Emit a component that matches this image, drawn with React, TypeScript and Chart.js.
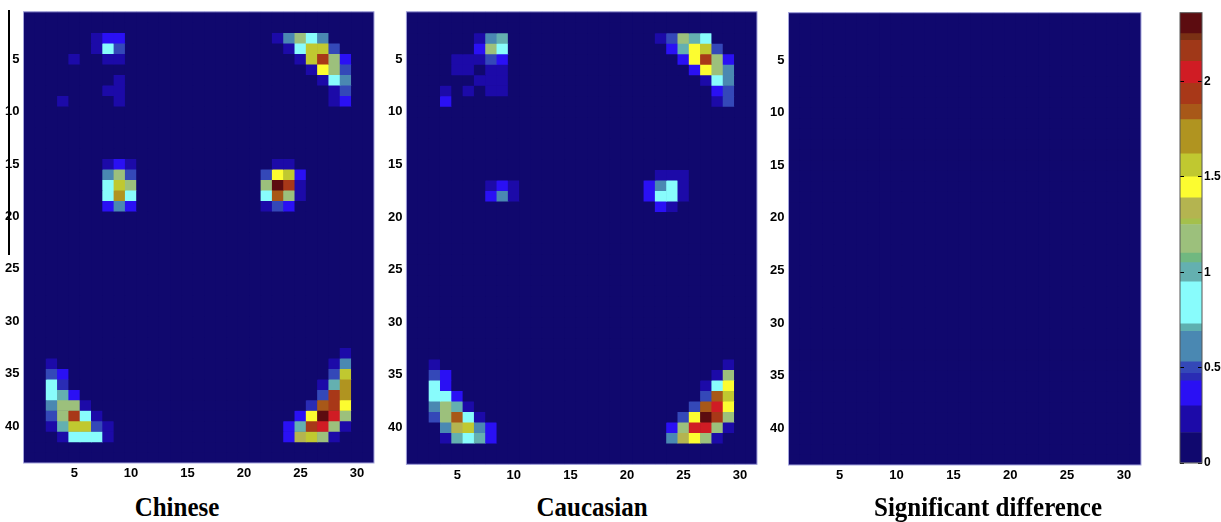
import React, { useEffect, useRef } from 'react';
import { Chart, registerables } from 'chart.js';

Chart.register(...registerables);

// ---------- grid / tick definitions ----------
const ROWS = 43;
const COLS = 31;
const xTickValues = [5, 10, 15, 20, 25, 30];
const yTickValues = [5, 10, 15, 20, 25, 30, 35, 40];
const colorbarTicks = [0, 0.5, 1, 1.5, 2];
const colorbarMax = 2.36;

// ---------- colormap (discrete levels of the colour bar) ----------
const levelEdges = [0, 0.16, 0.3, 0.43, 0.47, 0.53, 0.69, 0.73, 0.95, 1.05, 1.1, 1.25, 1.28, 1.39, 1.5, 1.62, 1.8, 1.88, 1.99, 2.105, 2.215, 2.25, 2.36];
const levelColors = [
  '#10086e', '#1c0aa8', '#2a10f4', '#2a2cb4', '#3448b8', '#4a88b2', '#5eb0b0', '#88fcfc',
  '#64b0b0', '#70b880', '#9cc07c', '#a4c04c', '#b4b450', '#fcfc30', '#c0c830', '#b09420',
  '#a85818', '#a83818', '#d01c24', '#a03818', '#7a3014', '#5c0c10',
];

// ---------- data: [row, column, value] for non-zero cells ----------
const chineseCells: [number, number, number][] = [
  // upper left
  [3, 7, 0.23], [3, 8, 0.36], [3, 9, 0.36],
  [4, 7, 0.23], [4, 8, 0.85], [4, 9, 0.5],
  [5, 5, 0.23], [5, 8, 0.23], [5, 9, 0.23],
  [7, 9, 0.23],
  [8, 8, 0.23], [8, 9, 0.23],
  [9, 4, 0.23], [9, 9, 0.23],
  // upper right
  [3, 23, 0.23], [3, 24, 0.6], [3, 25, 1.17], [3, 26, 0.85], [3, 27, 0.6],
  [4, 24, 0.23], [4, 25, 0.85], [4, 26, 1.55], [4, 27, 1.55], [4, 28, 0.5],
  [5, 25, 0.23], [5, 26, 1.55], [5, 27, 1.94], [5, 28, 1.17], [5, 29, 0.36],
  [6, 26, 0.23], [6, 27, 1.45], [6, 28, 1.17], [6, 29, 0.5],
  [7, 27, 0.23], [7, 28, 0.85], [7, 29, 0.6],
  [8, 28, 0.23], [8, 29, 0.5],
  [9, 28, 0.23], [9, 29, 0.36],
  // middle left
  [15, 8, 0.23], [15, 9, 0.36], [15, 10, 0.23],
  [16, 8, 0.6], [16, 9, 1.17], [16, 10, 0.5],
  [17, 8, 0.85], [17, 9, 1.55], [17, 10, 1.17],
  [18, 8, 0.85], [18, 9, 1.7], [18, 10, 0.85],
  [19, 8, 0.36], [19, 9, 0.6], [19, 10, 0.36],
  // middle right
  [15, 23, 0.23], [15, 24, 0.23],
  [16, 22, 0.5], [16, 23, 1.45], [16, 24, 1.55], [16, 25, 0.36],
  [17, 22, 1.17], [17, 23, 2.3], [17, 24, 1.94], [17, 25, 0.23],
  [18, 22, 0.85], [18, 23, 1.84], [18, 24, 1.17], [18, 25, 0.23],
  [19, 22, 0.23], [19, 23, 0.5], [19, 24, 0.36],
  // lower left
  [34, 3, 0.23],
  [35, 3, 0.5], [35, 4, 0.36],
  [36, 3, 0.85], [36, 4, 0.45],
  [37, 3, 0.85], [37, 4, 1.0], [37, 5, 0.36],
  [38, 3, 0.6], [38, 4, 1.17], [38, 5, 1.17], [38, 6, 0.23],
  [39, 3, 0.5], [39, 4, 1.17], [39, 5, 1.94], [39, 6, 0.85], [39, 7, 0.23],
  [40, 3, 0.23], [40, 4, 1.0], [40, 5, 1.55], [40, 6, 1.55], [40, 7, 0.5], [40, 8, 0.23],
  [41, 4, 0.23], [41, 5, 0.85], [41, 6, 0.85], [41, 7, 0.85], [41, 8, 0.23],
  // lower right
  [33, 29, 0.23],
  [34, 28, 0.23], [34, 29, 0.6],
  [35, 28, 0.5], [35, 29, 1.55],
  [36, 27, 0.23], [36, 28, 1.0], [36, 29, 1.7],
  [37, 27, 0.5], [37, 28, 1.94], [37, 29, 1.7],
  [38, 26, 0.45], [38, 27, 1.84], [38, 28, 1.94], [38, 29, 1.45],
  [39, 25, 0.36], [39, 26, 1.45], [39, 27, 2.3], [39, 28, 2.05], [39, 29, 1.17],
  [40, 24, 0.36], [40, 25, 1.0], [40, 26, 1.94], [40, 27, 2.05], [40, 28, 1.17], [40, 29, 0.23],
  [41, 24, 0.36], [41, 25, 1.33], [41, 26, 1.55], [41, 27, 1.17], [41, 28, 0.23],
];

const caucasianCells: [number, number, number][] = [
  // upper left
  [3, 7, 0.23], [3, 8, 0.6], [3, 9, 1.0],
  [4, 7, 0.36], [4, 8, 1.17], [4, 9, 0.85],
  [5, 5, 0.23], [5, 6, 0.23], [5, 7, 0.23], [5, 8, 0.5], [5, 9, 0.36],
  [6, 5, 0.23], [6, 6, 0.23], [6, 8, 0.23], [6, 9, 0.23],
  [7, 7, 0.23], [7, 8, 0.23], [7, 9, 0.23],
  [8, 4, 0.23], [8, 6, 0.23], [8, 8, 0.23], [8, 9, 0.23],
  [9, 4, 0.36],
  // upper right
  [3, 23, 0.23], [3, 24, 0.5], [3, 25, 1.17], [3, 26, 1.0], [3, 27, 0.85],
  [4, 24, 0.36], [4, 25, 1.0], [4, 26, 1.45], [4, 27, 1.55], [4, 28, 0.5],
  [5, 25, 0.36], [5, 26, 1.45], [5, 27, 1.94], [5, 28, 1.17], [5, 29, 0.36],
  [6, 26, 0.36], [6, 27, 1.45], [6, 28, 1.17], [6, 29, 0.6],
  [7, 27, 0.23], [7, 28, 0.85], [7, 29, 0.6],
  [8, 28, 0.36], [8, 29, 0.5],
  [9, 28, 0.23], [9, 29, 0.5],
  // middle left
  [17, 8, 0.23], [17, 9, 0.36], [17, 10, 0.23],
  [18, 8, 0.36], [18, 9, 0.6], [18, 10, 0.23],
  // middle right
  [16, 23, 0.23], [16, 24, 0.23], [16, 25, 0.23],
  [17, 22, 0.36], [17, 23, 0.6], [17, 24, 0.85], [17, 25, 0.23],
  [18, 22, 0.36], [18, 23, 0.85], [18, 24, 0.85], [18, 25, 0.23],
  [19, 23, 0.36], [19, 24, 0.23],
  // lower left
  [34, 3, 0.23],
  [35, 3, 0.5], [35, 4, 0.36],
  [36, 3, 0.85], [36, 4, 0.36],
  [37, 3, 0.85], [37, 4, 0.85], [37, 5, 0.36],
  [38, 3, 0.6], [38, 4, 1.17], [38, 5, 1.0], [38, 6, 0.23],
  [39, 3, 0.5], [39, 4, 1.17], [39, 5, 1.84], [39, 6, 0.85], [39, 7, 0.23],
  [40, 4, 0.6], [40, 5, 1.33], [40, 6, 1.55], [40, 7, 0.6], [40, 8, 0.36],
  [41, 4, 0.23], [41, 5, 1.0], [41, 6, 0.85], [41, 7, 1.0], [41, 8, 0.36],
  // lower right
  [34, 29, 0.23],
  [35, 28, 0.23], [35, 29, 1.17],
  [36, 27, 0.23], [36, 28, 0.85], [36, 29, 1.45],
  [37, 27, 0.5], [37, 28, 1.84], [37, 29, 1.55],
  [38, 26, 0.5], [38, 27, 1.84], [38, 28, 2.05], [38, 29, 1.45],
  [39, 25, 0.5], [39, 26, 1.45], [39, 27, 2.3], [39, 28, 1.94], [39, 29, 1.17],
  [40, 24, 0.36], [40, 25, 1.17], [40, 26, 2.05], [40, 27, 2.05], [40, 28, 1.17], [40, 29, 0.23],
  [41, 24, 0.55], [41, 25, 1.33], [41, 26, 1.45], [41, 27, 1.17], [41, 28, 0.23],
];

const significantCells: [number, number, number][] = [];

const panelTitles = ['Chinese', 'Caucasian', 'Significant difference'];

// ---------- helpers ----------
function colorFor(v: number): string {
  for (let i = 0; i < levelColors.length; i++) {
    if (v >= levelEdges[i] && v < levelEdges[i + 1]) return levelColors[i];
  }
  return levelColors[levelColors.length - 1];
}

function buildGrid(cells: [number, number, number][]): number[][] {
  const grid: number[][] = [];
  for (let r = 0; r < ROWS; r++) grid.push(new Array(COLS).fill(0));
  cells.forEach(([r, c, v]) => {
    grid[r - 1][c - 1] = v;
  });
  return grid;
}

const tickFont = { family: '"Liberation Sans Narrow", "Liberation Sans", Arial, sans-serif', size: 13, weight: 'bold' as const };
const CANVAS_H = 490;

const framePlugin = (stroke: string, fill?: string) => ({
  id: 'frame',
  beforeDatasetsDraw(chart: any) {
    if (!fill) return;
    const { ctx, chartArea: a } = chart;
    ctx.save();
    ctx.fillStyle = fill;
    ctx.fillRect(a.left, a.top, a.right - a.left, a.bottom - a.top);
    ctx.restore();
  },
  afterDraw(chart: any) {
    const { ctx, chartArea: a } = chart;
    ctx.save();
    ctx.strokeStyle = stroke;
    ctx.lineWidth = 1;
    ctx.strokeRect(a.left, a.top, a.right - a.left, a.bottom - a.top);
    ctx.restore();
  },
});

type Area = { left: number; top: number; right: number; bottom: number };

function HeatPanel({ cells, area }: { cells: [number, number, number][]; area: Area }) {
  const ref = useRef<HTMLCanvasElement>(null);
  const canvasLeft = Math.floor(area.left) - 30;
  const canvasRight = Math.ceil(area.right) + 10;
  const canvasWidth = canvasRight - canvasLeft;

  useEffect(() => {
    if (!ref.current) return;
    const grid = buildGrid(cells);
    const labels = Array.from({ length: COLS }, (_, i) => String(i + 1));
    const datasets = grid.map((row, ri) => ({
      data: row.map(() => [ri + 0.5, ri + 1.5]),
      backgroundColor: row.map((v) => colorFor(v)),
      borderWidth: 0,
      grouped: false,
      barPercentage: 1,
      categoryPercentage: 1,
    }));
    const yWidth = area.left - canvasLeft;
    const chart = new Chart(ref.current, {
      type: 'bar',
      data: { labels, datasets: datasets as any },
      options: {
        animation: false,
        responsive: false,
        maintainAspectRatio: false,
        events: [],
        layout: { padding: { left: 0, top: area.top, right: canvasRight - area.right, bottom: 0 } },
        plugins: { legend: { display: false }, tooltip: { enabled: false }, title: { display: false } },
        scales: {
          x: {
            type: 'category',
            offset: true,
            grid: { display: false, drawTicks: false },
            border: { display: false },
            ticks: {
              autoSkip: false,
              maxRotation: 0,
              padding: 3,
              color: '#000',
              font: tickFont,
              callback: (_v: any, index: number) => (xTickValues.includes(index + 1) ? String(index + 1) : ''),
            },
            afterFit: (s: any) => {
              s.height = CANVAS_H - area.bottom;
            },
          },
          y: {
            type: 'linear',
            reverse: true,
            min: 0.5,
            max: ROWS + 0.5,
            grid: { display: false, drawTicks: false },
            border: { display: false },
            ticks: { padding: 4, color: '#000', font: tickFont },
            afterBuildTicks: (s: any) => {
              s.ticks = yTickValues.map((v) => ({ value: v }));
            },
            afterFit: (s: any) => {
              s.width = yWidth;
            },
          },
        },
      },
      plugins: [framePlugin('#a4a4dc', colorFor(0))],
    });
    return () => chart.destroy();
  }, [cells, area]);

  return (
    <canvas
      ref={ref}
      width={canvasWidth}
      height={CANVAS_H}
      style={{ position: 'absolute', left: canvasLeft, top: 0, width: canvasWidth, height: CANVAS_H }}
    />
  );
}

function ColorBar({ area }: { area: Area }) {
  const ref = useRef<HTMLCanvasElement>(null);
  const canvasLeft = Math.floor(area.left) - 10;
  const canvasWidth = 1221 - canvasLeft;
  useEffect(() => {
    if (!ref.current) return;
    const datasets = levelColors.map((c, i) => ({
      data: [[levelEdges[i], levelEdges[i + 1]]],
      backgroundColor: c,
      borderWidth: 0,
      grouped: false,
      barPercentage: 1,
      categoryPercentage: 1,
    }));
    const chart = new Chart(ref.current, {
      type: 'bar',
      data: { labels: [''], datasets: datasets as any },
      options: {
        animation: false,
        responsive: false,
        maintainAspectRatio: false,
        events: [],
        layout: { padding: { left: area.left - canvasLeft, top: area.top, right: 0, bottom: CANVAS_H - area.bottom } },
        plugins: { legend: { display: false }, tooltip: { enabled: false } },
        scales: {
          x: { display: false },
          y: {
            type: 'linear',
            position: 'right',
            min: 0,
            max: colorbarMax,
            grid: { display: true, drawOnChartArea: true, drawTicks: false, color: '#000', lineWidth: 1, z: 1 },
            border: { display: false, dash: [4, 14] },
            ticks: {
              padding: 2,
              color: '#000',
              font: { ...tickFont, size: 12 },
              callback: (v: any) => String(v),
            },
            afterBuildTicks: (s: any) => {
              s.ticks = colorbarTicks.map((v) => ({ value: v }));
            },
            afterFit: (s: any) => {
              s.width = canvasLeft + canvasWidth - area.right;
            },
          },
        },
      },
      plugins: [framePlugin('#555555')],
    });
    return () => chart.destroy();
  }, [area]);
  return (
    <canvas
      ref={ref}
      width={canvasWidth}
      height={CANVAS_H}
      style={{ position: 'absolute', left: canvasLeft, top: 0, width: canvasWidth, height: CANVAS_H }}
    />
  );
}

const panelAreas: Area[] = [
  { left: 23.5, top: 10, right: 374, bottom: 463 },
  { left: 406.4, top: 11.7, right: 757, bottom: 464.3 },
  { left: 788.5, top: 12.7, right: 1141, bottom: 465 },
];
const colorbarArea: Area = { left: 1180, top: 12.7, right: 1202, bottom: 463 };
const titleCenters = [177, 592, 988];
const panelCells = [chineseCells, caucasianCells, significantCells];

export default function App() {
  return (
    <div
      style={{
        position: 'absolute',
        left: 0,
        top: 0,
        width: 1221,
        height: 522,
        overflow: 'hidden',
        background: '#fff',
      }}
    >
      {panelCells.map((cells, i) => (
        <HeatPanel key={i} cells={cells} area={panelAreas[i]} />
      ))}
      <ColorBar area={colorbarArea} />
      <div style={{ position: 'absolute', left: 8, top: 10, width: 2, height: 245, background: '#000' }} />
      {panelTitles.map((t, i) => (
        <div
          key={t}
          style={{
            position: 'absolute',
            left: titleCenters[i] - 200,
            width: 400,
            top: 495,
            textAlign: 'center',
            fontFamily: '"Liberation Serif", "Times New Roman", serif',
            fontWeight: 'bold',
            fontSize: 25,
            lineHeight: '25px',
            color: '#000',
            transform: 'scaleY(1.1)',
            transformOrigin: '50% 21px',
            whiteSpace: 'nowrap',
          }}
        >
          {t}
        </div>
      ))}
    </div>
  );
}
